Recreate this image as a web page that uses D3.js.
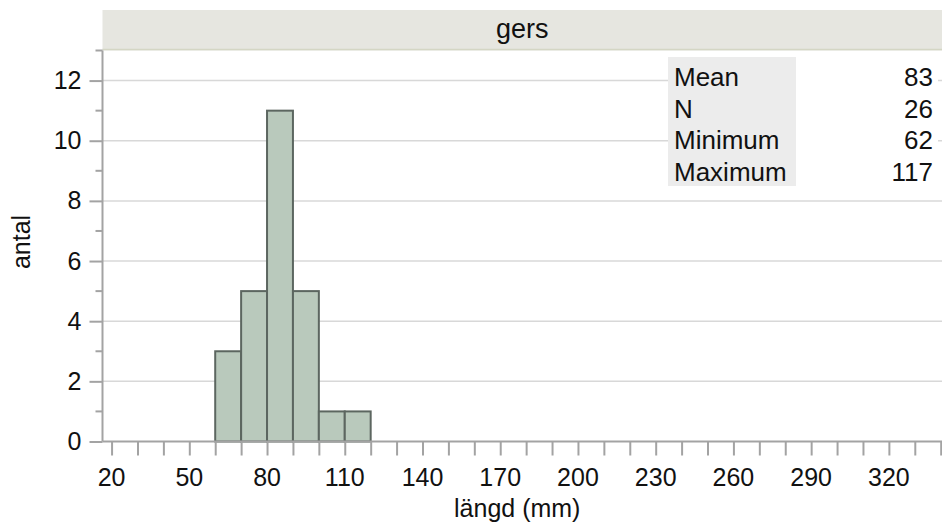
<!DOCTYPE html>
<html>
<head>
<meta charset="utf-8">
<script src="https://cdn.jsdelivr.net/npm/d3@7.9.0/dist/d3.min.js"></script>
<style>
  body { margin: 0; background: #fff; }
  text { font-family: "Liberation Sans", Arial, Helvetica, sans-serif; fill: #111; }
</style>
</head>
<body>
<svg id="chart" width="942" height="527"></svg>
<script>
// histogram bins (mm) and counts
const binStarts = [60, 70, 80, 90, 100, 110];
const binWidth = 10;
const counts = [3, 5, 11, 5, 1, 1];

const xMinorTicks = d3.range(20, 341, 10);
const xLabelTicks = [20, 50, 80, 110, 140, 170, 200, 230, 260, 290, 320];
const yMajorTicks = [0, 2, 4, 6, 8, 10, 12];
const yMinorTicks = [1, 3, 5, 7, 9, 11, 13];

const panelTitle = "gers";
const statNames = ["Mean", "N", "Minimum", "Maximum"];
const statValues = ["83", "26", "62", "117"];

const svg = d3.select("#chart");
const plotLeft = 102.5, plotRight = 942, plotTop = 50.5, plotBottom = 441.5;

const x = d3.scaleLinear().domain([16.5, 340.5]).range([plotLeft, plotRight]);
const y = d3.scaleLinear().domain([0, 13]).range([plotBottom, plotTop]);

// header band
svg.append("rect")
    .attr("x", plotLeft).attr("y", 10)
    .attr("width", plotRight - plotLeft).attr("height", plotTop - 10)
    .attr("fill", "#e6e6e0");
svg.append("line")
    .attr("x1", plotLeft).attr("x2", plotRight)
    .attr("y1", plotTop - 1).attr("y2", plotTop - 1)
    .attr("stroke", "#d4d6c4").attr("stroke-width", 1.5);
svg.append("text")
    .attr("x", (plotLeft + plotRight) / 2).attr("y", 38)
    .attr("text-anchor", "middle")
    .style("font-size", "27px")
    .text(panelTitle);

// gridlines
svg.append("g").selectAll("line")
    .data(yMajorTicks.filter(d => d > 0))
    .join("line")
    .attr("x1", plotLeft).attr("x2", plotRight)
    .attr("y1", d => y(d)).attr("y2", d => y(d))
    .attr("stroke", "#d8d8d8").attr("stroke-width", 1.5);

// bars
svg.append("g").selectAll("rect")
    .data(binStarts)
    .join("rect")
    .attr("x", d => x(d))
    .attr("width", d => x(d + binWidth) - x(d))
    .attr("y", (d, i) => y(counts[i]))
    .attr("height", (d, i) => y(0) - y(counts[i]))
    .attr("fill", "#b9c9bc")
    .attr("stroke", "#5c6660")
    .attr("stroke-width", 2);

// y axis
const yAxis = svg.append("g").attr("transform", `translate(${plotLeft},0)`);
yAxis.call(d3.axisLeft(y).tickValues(yMajorTicks).tickSize(13).tickPadding(8));
yAxis.append("g").selectAll("line")
    .data(yMinorTicks)
    .join("line")
    .attr("x1", -7).attr("x2", 0)
    .attr("y1", d => y(d)).attr("y2", d => y(d));

// x axis
const xAxis = svg.append("g").attr("transform", `translate(0,${plotBottom})`);
xAxis.call(d3.axisBottom(x).tickValues(xMinorTicks).tickSize(14).tickFormat(""));
xAxis.append("g").selectAll("text")
    .data(xLabelTicks)
    .join("text")
    .attr("x", d => x(d)).attr("y", 44)
    .attr("text-anchor", "middle")
    .style("font-size", "25px")
    .text(d => d);

[yAxis, xAxis].forEach(a => {
    a.select(".domain").attr("stroke", "#a3a3a3").attr("stroke-width", 2);
    a.selectAll("line").attr("stroke", "#a3a3a3").attr("stroke-width", 2);
});
yAxis.selectAll(".tick text").style("font-size", "25px").attr("fill", "#111");
xAxis.select(".domain").attr("d", `M${plotLeft},0H${plotRight}`);
yAxis.select(".domain").attr("d", `M0,${plotTop}V${plotBottom}`);

// axis titles
svg.append("text")
    .attr("x", (plotLeft + plotRight) / 2 - 5).attr("y", 517)
    .attr("text-anchor", "middle")
    .style("font-size", "25px")
    .text("längd (mm)");
svg.append("text")
    .attr("transform", `translate(30,242) rotate(-90)`)
    .attr("text-anchor", "middle")
    .style("font-size", "25px")
    .text("antal");

// statistics table
const tx = 668, tw = 270, lw = 128, ty = 57, rowH = 31.5;
svg.append("rect")
    .attr("x", tx).attr("y", ty)
    .attr("width", tw).attr("height", rowH * statNames.length + 3)
    .attr("fill", "#fff");
svg.append("rect")
    .attr("x", tx).attr("y", ty)
    .attr("width", lw).attr("height", rowH * statNames.length + 3)
    .attr("fill", "#ececec");
svg.append("g").selectAll("text")
    .data(statNames)
    .join("text")
    .attr("x", tx + 6).attr("y", (d, i) => 86 + i * rowH)
    .style("font-size", "26px")
    .text(d => d);
svg.append("g").selectAll("text")
    .data(statValues)
    .join("text")
    .attr("x", 933).attr("y", (d, i) => 86 + i * rowH)
    .attr("text-anchor", "end")
    .style("font-size", "26px")
    .text(d => d);
</script>
</body>
</html>
